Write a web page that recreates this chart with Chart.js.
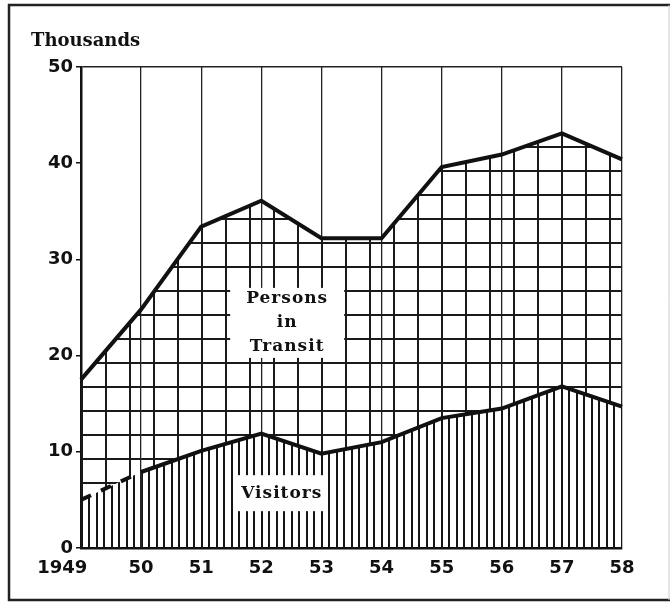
<!DOCTYPE html>
<html>
<head>
<meta charset="utf-8">
<script src="https://cdn.jsdelivr.net/npm/chart.js@4.4.1/dist/chart.umd.min.js"></script>
<style>
  html, body { margin: 0; padding: 0; background: #fff; }
  #wrap { width: 672px; height: 605px; }
</style>
</head>
<body>
<div id="wrap"><canvas id="chart" width="672" height="605"></canvas></div>
<script>
// Years on the x axis (tick labels as printed)
const years = ['1949', '50', '51', '52', '53', '54', '55', '56', '57', '58'];

// Thousands
const visitors = [5.0, 7.9, 10.1, 11.9, 9.8, 11.0, 13.5, 14.5, 16.8, 14.7];
const totalPersons = [17.5, 24.8, 33.4, 36.1, 32.2, 32.2, 39.6, 40.9, 43.1, 40.4];

const yTicks = [0, 10, 20, 30, 40, 50];

const ink = '#111';
const tickFont = { family: "'DejaVu Sans'", size: 18, weight: 'bold' };

// Square grid hatching for "Persons in Transit"
function makeGridPattern(ctx) {
    const c = document.createElement('canvas');
    c.width = 24;
    c.height = 24;
    const g = c.getContext('2d');
    g.fillStyle = '#1a1a1a';
    g.fillRect(0, 0, 2, 24);
    g.fillRect(0, 0, 24, 2);
    const p = ctx.createPattern(c, 'repeat');
    p.setTransform(new DOMMatrix([1, 0, 0, 1, 81 % 24, 482 % 24]));
    return p;
}

// Vertical hatching for "Visitors"
function makeLinePattern(ctx) {
    const c = document.createElement('canvas');
    c.width = 15;
    c.height = 4;
    const g = c.getContext('2d');
    g.fillStyle = '#151515';
    g.fillRect(0, 0, 2, 4);
    g.fillRect(7, 0, 2, 4);
    const p = ctx.createPattern(c, 'repeat');
    p.setTransform(new DOMMatrix([1, 0, 0, 1, 81 % 15, 0]));
    return p;
}

// Frame round the whole picture, plus the "Thousands" caption
const framePlugin = {
    id: 'frame',
    beforeDraw(chart) {
        const ctx = chart.ctx;
        ctx.save();
        ctx.fillStyle = '#fff';
        ctx.fillRect(0, 0, chart.width, chart.height);
        ctx.strokeStyle = '#222';
        ctx.lineWidth = 2.5;
        ctx.beginPath();
        ctx.moveTo(670, 5);
        ctx.lineTo(9, 5);
        ctx.lineTo(9, 600);
        ctx.lineTo(670, 600);
        ctx.stroke();
        ctx.strokeStyle = '#ccc';
        ctx.lineWidth = 1;
        ctx.beginPath();
        ctx.moveTo(669, 5);
        ctx.lineTo(669, 600);
        ctx.stroke();

        const area = chart.chartArea;
        ctx.fillStyle = ink;
        ctx.font = "bold 18px 'DejaVu Serif'";
        ctx.textAlign = 'left';
        ctx.textBaseline = 'middle';
        ctx.fillText('Thousands', area.left - 50, area.top - 26);
        ctx.restore();
    }
};

// White boxes with the area names
const areaLabels = [
    { lines: ['Persons', 'in', 'Transit'], at: [3.43, 23.4], box: [114, 70] },
    { lines: ['Visitors'], at: [3.34, 5.7], box: [92, 36] }
];

const labelPlugin = {
    id: 'areaLabels',
    afterDatasetsDraw(chart) {
        const ctx = chart.ctx;
        const xs = chart.scales.x;
        const ys = chart.scales.y;
        ctx.save();
        areaLabels.forEach(lbl => {
            const cx = xs.getPixelForValue(lbl.at[0]);
            const cy = ys.getPixelForValue(lbl.at[1]);
            ctx.fillStyle = '#fff';
            ctx.fillRect(cx - lbl.box[0] / 2, cy - lbl.box[1] / 2, lbl.box[0], lbl.box[1]);
            ctx.fillStyle = ink;
            ctx.font = "bold 17px 'DejaVu Serif'";
            ctx.letterSpacing = '1px';
            ctx.textAlign = 'center';
            ctx.textBaseline = 'middle';
            const lh = 24;
            lbl.lines.forEach((t, i) => {
                ctx.fillText(t, cx, cy + (i - (lbl.lines.length - 1) / 2) * lh);
            });
        });
        ctx.restore();
    }
};

const canvas = document.getElementById('chart');
const ctx = canvas.getContext('2d');

new Chart(ctx, {
    type: 'line',
    data: {
        labels: years,
        datasets: [
            {
                label: 'Visitors',
                data: visitors,
                borderColor: ink,
                borderWidth: 4,
                pointRadius: 0,
                tension: 0,
                fill: 'origin',
                backgroundColor: makeLinePattern(ctx),
                segment: {
                    borderDash: c => c.p0DataIndex === 0 ? [11, 11] : undefined
                }
            },
            {
                label: 'Persons in Transit',
                data: totalPersons,
                borderColor: ink,
                borderWidth: 4,
                pointRadius: 0,
                tension: 0,
                fill: '-1',
                backgroundColor: makeGridPattern(ctx)
            }
        ]
    },
    options: {
        responsive: false,
        animation: false,
        layout: {
            padding: { left: 0, right: 50, top: 67, bottom: 0 }
        },
        plugins: {
            legend: { display: false },
            tooltip: { enabled: false },
            title: { display: false }
        },
        scales: {
            x: {
                type: 'category',
                offset: false,
                grid: {
                    color: '#222',
                    lineWidth: 1.3,
                    drawTicks: false,
                    offset: false
                },
                border: { display: true, color: ink, width: 2.5 },
                ticks: {
                    color: ink,
                    font: tickFont,
                    padding: 10,
                    maxRotation: 0,
                    autoSkip: false,
                    callback: function(value, index) {
                        const name = years[index];
                        // the first year label sits left of its line
                        return index === 0 ? name + '\u2007\u2007\u2007' : name;
                    }
                },
                afterFit: scale => { scale.height = 57; }
            },
            y: {
                min: yTicks[0],
                max: yTicks[yTicks.length - 1],
                grid: {
                    color: c => (c.tick && c.tick.value === 50) ? '#222' : 'rgba(0,0,0,0)',
                    lineWidth: 1.5,
                    tickColor: ink,
                    tickLength: 5,
                    drawTicks: true
                },
                border: { display: true, color: ink, width: 2.5 },
                ticks: {
                    color: ink,
                    font: tickFont,
                    padding: 3,
                    stepSize: 10
                },
                afterBuildTicks: scale => {
                    scale.ticks = yTicks.map(v => ({ value: v }));
                },
                afterFit: scale => { scale.width = 81; }
            }
        }
    },
    plugins: [framePlugin, labelPlugin]
});
</script>
</body>
</html>
